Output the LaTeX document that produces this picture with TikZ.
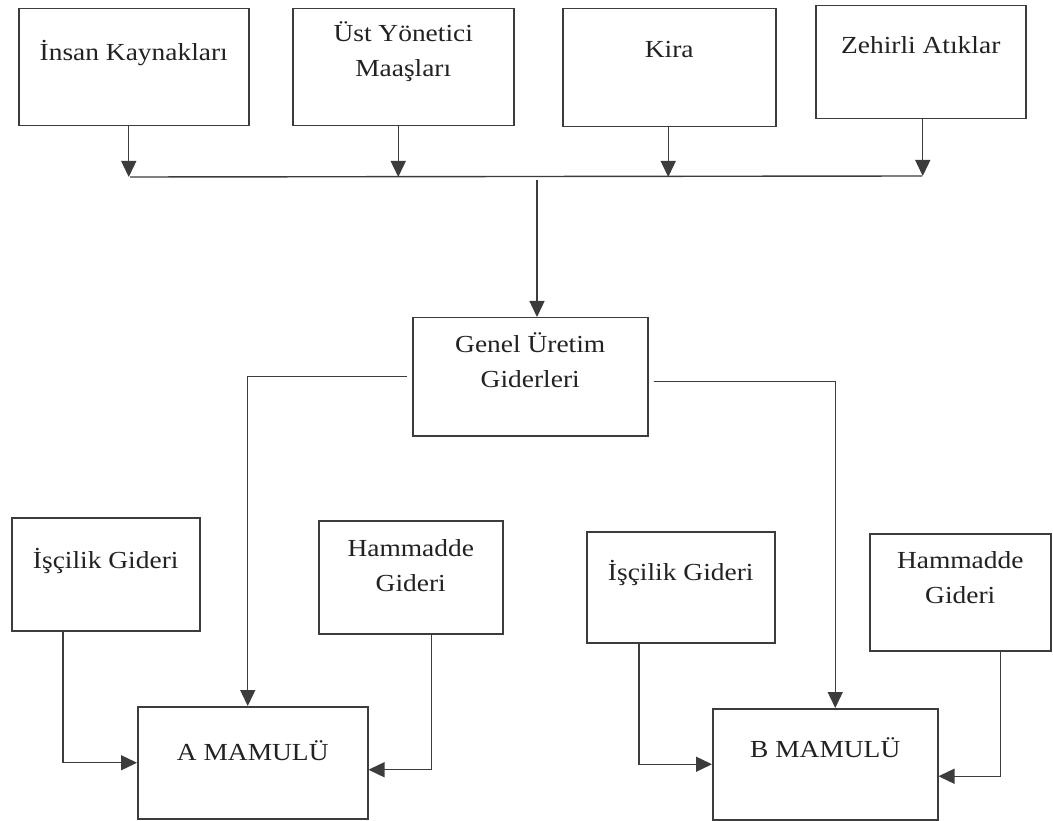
\documentclass[tikz,border=0pt]{standalone}
\usepackage{fontspec}
\setmainfont{Liberation Serif}[FakeStretch=1.12]
\usetikzlibrary{arrows.meta,calc}
\definecolor{linec}{HTML}{3C3C3C}
\definecolor{txtc}{HTML}{222222}
\begin{document}
\begin{tikzpicture}[x=1pt,y=-1pt,
  box/.style={draw=linec, line width=1.5pt, rectangle, inner sep=0pt, anchor=north west},
  lbl/.style={anchor=base, align=center, inner sep=0pt, text=txtc, font=\fontsize{24.5}{35}\selectfont},
  conn/.style={draw=linec, line width=1.4pt},
  arr/.style={conn, -{Triangle[length=16pt,width=15pt]}}]
\path[use as bounding box, fill=white] (0,0) rectangle (1053,821);

% top row
\node[box, minimum width=230pt, minimum height=117pt] (ik) at (18,8) {};
\node[lbl] (ikt) at ($(ik.north)+(0,53)$) {İnsan Kaynakları};
\node[box, minimum width=221pt, minimum height=117pt] (uy) at (292,8) {};
\node[lbl] (uyt) at ($(uy.north)+(0,69)$) {Üst Yönetici\\Maaşları};
\node[box, minimum width=213pt, minimum height=118pt] (ki) at (562,8) {};
\node[lbl] (kit) at ($(ki.north)+(0,50)$) {Kira};
\node[box, minimum width=210pt, minimum height=113pt] (za) at (815,5) {};
\node[lbl] (zat) at ($(za.north)+(0,49)$) {Zehirli Atıklar};

% middle
\node[box, minimum width=235pt, minimum height=118pt] (gu) at (412,317) {};
\node[lbl] (gut) at ($(gu.north)+(0,70)$) {Genel Üretim\\Giderleri};

% bottom left
\node[box, minimum width=188pt, minimum height=113pt] (il) at (11,517) {};
\node[lbl] (ilt) at ($(il.north)+(0,51)$) {İşçilik Gideri};
\node[box, minimum width=184pt, minimum height=113pt] (hl) at (318,520) {};
\node[lbl] (hlt) at ($(hl.north)+(0,71)$) {Hammadde\\Gideri};
\node[box, minimum width=230pt, minimum height=112pt] (am) at (137,706) {};
\node[lbl] (amt) at ($(am.north)+(0,54)$) {A MAMULÜ};

% bottom right
\node[box, minimum width=188pt, minimum height=111pt] (ir) at (586,531) {};
\node[lbl] (irt) at ($(ir.north)+(0,49)$) {İşçilik Gideri};
\node[box, minimum width=181pt, minimum height=117pt] (hr) at (869,533) {};
\node[lbl] (hrt) at ($(hr.north)+(0,70)$) {Hammadde\\Gideri};
\node[box, minimum width=225pt, minimum height=111pt] (bm) at (712,708) {};
\node[lbl] (bmt) at ($(bm.north)+(0,49)$) {B MAMULÜ};

% connector points
\coordinate (busL) at (130,177);
\coordinate (busR) at (922,176);
\coordinate (busM) at (537,180);
\coordinate (ikS) at ($(ik.south)+(-5,0)$);
\coordinate (uyS) at ($(uy.south)+(-5,0)$);
\coordinate (kiS) at ($(ki.south)+(-1,0)$);
\coordinate (zaS) at ($(za.south)+(2,0)$);
\coordinate (amN) at ($(am.north)+(-5,0)$);
\coordinate (guE) at ($(gu.east)+(0,5)$);
\coordinate (bmN) at ($(bm.north)+(10,0)$);
\coordinate (ilS) at ($(il.south west)+(52,0)$);
\coordinate (hlS) at ($(hl.south)+(21,0)$);
\coordinate (amE) at ($(am.east)+(0,7)$);
\coordinate (irS) at ($(ir.south west)+(53,0)$);
\coordinate (hrS) at ($(hr.south)+(40,0)$);
\coordinate (bmE) at ($(bm.east)+(0,12)$);

% bus
\draw[conn] (busL) -- (busR);
\draw[arr] (ikS) -- (ikS |- busL);
\draw[arr] (uyS) -- (uyS |- busL);
\draw[arr] (kiS) -- (kiS |- busL);
\draw[arr] (zaS) -- (zaS |- busR);
\draw[arr] (busM) -- (busM |- gu.north);

% distribution to products
\draw[arr, shorten <=5pt] (gu.west) -| (amN);
\draw[arr, shorten <=5pt] (guE) -| (bmN);

% inputs
\draw[arr] (ilS) |- (am.west);
\draw[arr] (hlS) |- (amE);
\draw[arr] (irS) |- (bm.west);
\draw[arr] (hrS) |- (bmE);
\end{tikzpicture}
\end{document}
